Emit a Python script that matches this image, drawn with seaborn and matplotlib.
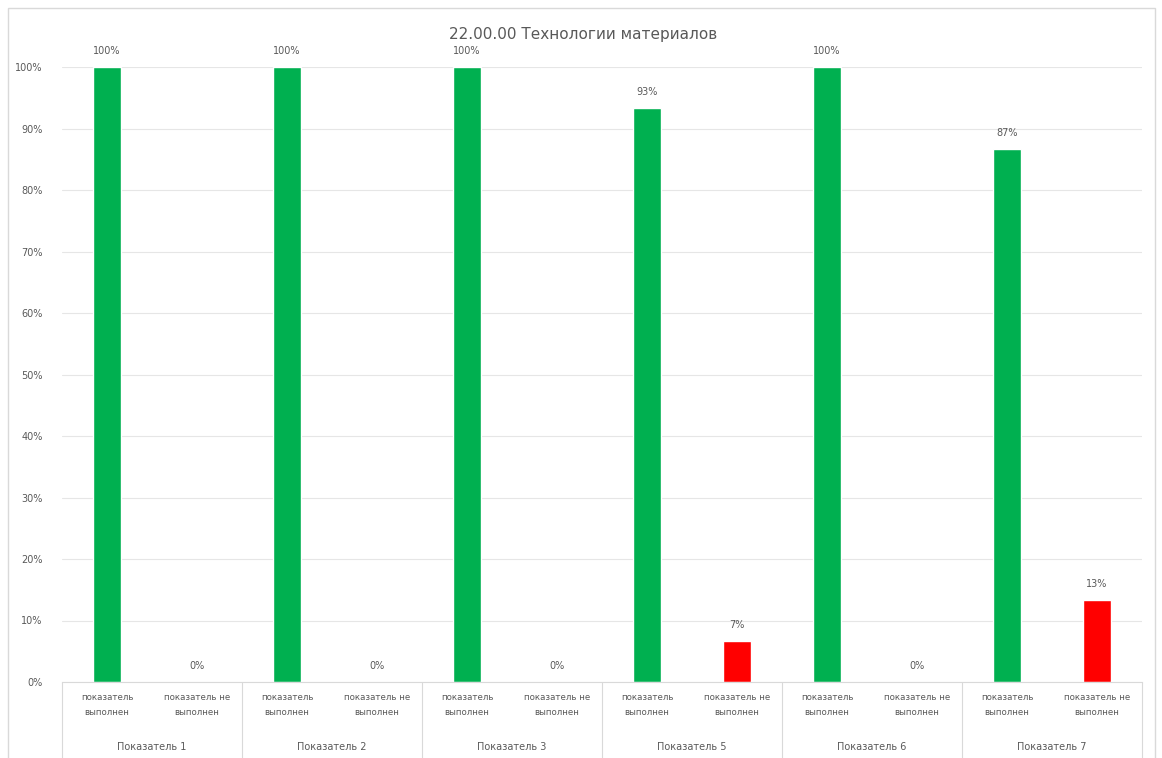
import matplotlib
matplotlib.use("Agg")
import matplotlib.pyplot as plt
import matplotlib.transforms as mtransforms
import seaborn as sns
import pandas as pd

# Data
groups = ["Показатель 1", "Показатель 2", "Показатель 3",
          "Показатель 5", "Показатель 6", "Показатель 7"]
done = [1.00, 1.00, 1.00, 0.933, 1.00, 0.867]
not_done = [0.00, 0.00, 0.00, 0.067, 0.00, 0.133]
sub_labels = ["показатель\nвыполнен", "показатель не\nвыполнен"]

rows = []
for i, g in enumerate(groups):
    rows.append({"cat": f"{i}a", "status": "done", "value": done[i]})
    rows.append({"cat": f"{i}b", "status": "not", "value": not_done[i]})
df = pd.DataFrame(rows)

green = "#00B050"
red = "#FF0000"
text_color = "#595959"

sns.set_style("white")
plt.rcParams["font.family"] = ["DejaVu Sans"]

fig = plt.figure(figsize=(11.62, 7.58), dpi=100)
ax = fig.add_axes([62 / 1162, 1 - 682 / 758, 1080 / 1162, (682 - 67) / 758])

sns.barplot(data=df, x="cat", y="value", hue="status",
            palette={"done": green, "not": red}, dodge=False, saturation=1,
            width=0.31, legend=False, ax=ax)

ax.set_ylim(0, 1)
ax.set_xlim(-0.5, len(df) - 0.5)
ax.set_yticks([i / 10 for i in range(11)])
ax.set_yticklabels([f"{i * 10}%" for i in range(11)], fontsize=7, color=text_color)
ax.yaxis.grid(True, color="#E6E6E6", linewidth=0.8)
ax.set_axisbelow(True)
ax.tick_params(axis="y", length=0, pad=14)
ax.tick_params(axis="x", length=0, pad=8)
ax.set_xticks(range(len(df)))
ax.set_xticklabels(sub_labels * len(groups), fontsize=6.2, color=text_color,
                   linespacing=1.8)
ax.set_xlabel("")
ax.set_ylabel("")
for s in ["top", "right", "left"]:
    ax.spines[s].set_visible(False)
ax.spines["bottom"].set_color("#D9D9D9")

# value labels
for cont in ax.containers:
    ax.bar_label(cont, labels=[f"{v * 100:.0f}%" for v in cont.datavalues],
                 fontsize=7, color=text_color, padding=8)

# group labels and separators below the axis
trans = mtransforms.blended_transform_factory(ax.transData, ax.transAxes)
for i, g in enumerate(groups):
    ax.text(2 * i + 0.5, -0.105, g, transform=trans, ha="center", va="center",
            fontsize=7, color=text_color)
for k in range(len(groups) + 1):
    ax.plot([2 * k - 0.5, 2 * k - 0.5], [0, -0.13], transform=trans,
            color="#D9D9D9", linewidth=0.8, clip_on=False)

fig.text(583 / 1162, 1 - 35 / 758, "22.00.00 Технологии материалов",
         ha="center", va="center", fontsize=11, color=text_color)

# outer chart frame
fig.patches.append(plt.Rectangle((8 / 1162, -0.01), 1147 / 1162, 1 - 8 / 758 + 0.01,
                                 transform=fig.transFigure, fill=False,
                                 edgecolor="#D9D9D9", linewidth=1))

fig.savefig("out.png", dpi=100)
